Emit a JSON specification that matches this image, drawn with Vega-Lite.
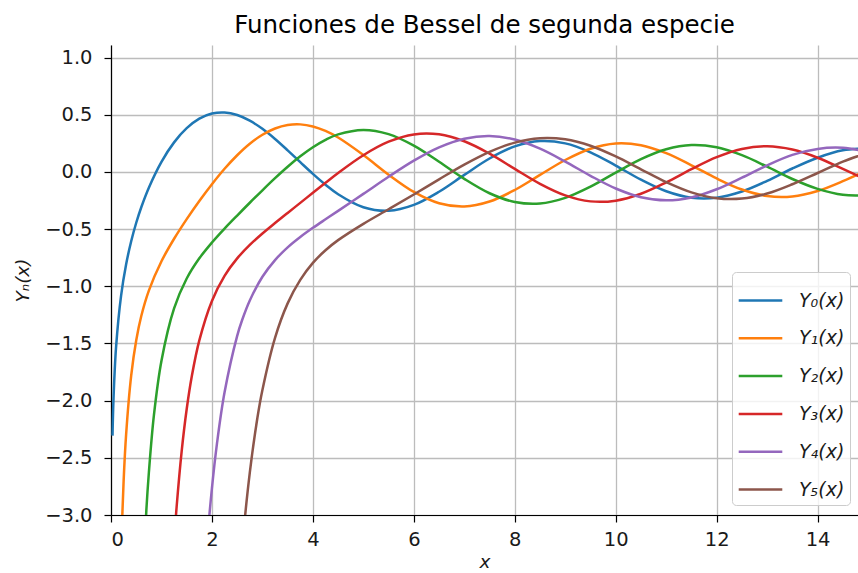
{
  "$schema": "https://vega.github.io/schema/vega-lite/v6.json",
  "width": 747,
  "height": 470,
  "autosize": {"type": "none"},
  "padding": {"left": 111, "top": 45, "right": 0, "bottom": 58},
  "background": "white",
  "title": {"text": "Funciones de Bessel de segunda especie", "font": "DejaVu Sans", "fontSize": 24.5, "fontWeight": "normal", "color": "#000000", "offset": 7, "anchor": "middle"},
  "config": {
    "view": {"stroke": null},
    "font": "DejaVu Sans",
    "axis": {
      "labelFont": "DejaVu Sans", "labelFontSize": 19.5, "labelColor": "#1a1a1a",
      "titleFont": "DejaVu Sans", "titleFontSize": 18.5, "titleFontWeight": "normal", "titleFontStyle": "italic", "titleColor": "#1a1a1a",
      "domainColor": "#000000", "domainWidth": 1.2,
      "tickColor": "#000000", "tickWidth": 1.2, "tickSize": 7,
      "grid": true, "gridColor": "#bcbcbc", "gridWidth": 1.3
    },
    "legend": {
      "orient": "none", "legendX": 621, "legendY": 227,
      "padding": 5, "fillColor": "rgba(255,255,255,0.8)", "strokeColor": "#cccccc", "cornerRadius": 4,
      "symbolType": "stroke", "symbolSize": 1900, "symbolStrokeWidth": 2.5,
      "labelFont": "DejaVu Sans", "labelFontSize": 19, "labelFontStyle": "italic", "labelColor": "#1a1a1a", "labelOffset": 15,
      "rowPadding": 3.8
    }
  },
  "layer": [
    {
      "data": {"values": [
        {"s":"Y₀(x)","x":0.03,"y":-2.306},{"s":"Y₀(x)","x":0.05,"y":-1.981},{"s":"Y₀(x)","x":0.1,"y":-1.5342},{"s":"Y₀(x)","x":0.2,"y":-1.0811},{"s":"Y₀(x)","x":0.3,"y":-0.8073},{"s":"Y₀(x)","x":0.4,"y":-0.606},{"s":"Y₀(x)","x":0.5,"y":-0.4445},{"s":"Y₀(x)","x":0.6,"y":-0.3085},{"s":"Y₀(x)","x":0.75,"y":-0.1375},{"s":"Y₀(x)","x":1,"y":0.0883},{"s":"Y₀(x)","x":1.25,"y":0.2585},{"s":"Y₀(x)","x":1.5,"y":0.3824},{"s":"Y₀(x)","x":1.75,"y":0.4655},{"s":"Y₀(x)","x":2,"y":0.5104},{"s":"Y₀(x)","x":2.25,"y":0.52},{"s":"Y₀(x)","x":2.5,"y":0.4981},{"s":"Y₀(x)","x":2.75,"y":0.4487},{"s":"Y₀(x)","x":3,"y":0.3769},{"s":"Y₀(x)","x":3.25,"y":0.2883},{"s":"Y₀(x)","x":3.5,"y":0.189},{"s":"Y₀(x)","x":3.75,"y":0.0855},{"s":"Y₀(x)","x":4,"y":-0.0169},{"s":"Y₀(x)","x":4.25,"y":-0.1116},{"s":"Y₀(x)","x":4.5,"y":-0.1947},{"s":"Y₀(x)","x":5,"y":-0.3085},{"s":"Y₀(x)","x":5.5,"y":-0.3395},{"s":"Y₀(x)","x":6,"y":-0.2882},{"s":"Y₀(x)","x":6.5,"y":-0.1732},{"s":"Y₀(x)","x":7,"y":-0.0259},{"s":"Y₀(x)","x":7.5,"y":0.1173},{"s":"Y₀(x)","x":8,"y":0.2235},{"s":"Y₀(x)","x":8.5,"y":0.2702},{"s":"Y₀(x)","x":9,"y":0.2499},{"s":"Y₀(x)","x":9.5,"y":0.1717},{"s":"Y₀(x)","x":10,"y":0.0557},{"s":"Y₀(x)","x":10.5,"y":-0.0675},{"s":"Y₀(x)","x":11,"y":-0.1688},{"s":"Y₀(x)","x":11.5,"y":-0.2252},{"s":"Y₀(x)","x":12,"y":-0.2252},{"s":"Y₀(x)","x":12.5,"y":-0.1713},{"s":"Y₀(x)","x":13,"y":-0.0783},{"s":"Y₀(x)","x":13.5,"y":0.0301},{"s":"Y₀(x)","x":14,"y":0.1243},{"s":"Y₀(x)","x":14.5,"y":0.1889},{"s":"Y₀(x)","x":15,"y":0.2057},
        {"s":"Y₁(x)","x":0.2,"y":-3.3238},{"s":"Y₁(x)","x":0.25,"y":-2.7041},{"s":"Y₁(x)","x":0.3,"y":-2.2931},{"s":"Y₁(x)","x":0.4,"y":-1.7809},{"s":"Y₁(x)","x":0.5,"y":-1.4715},{"s":"Y₁(x)","x":0.6,"y":-1.2604},{"s":"Y₁(x)","x":0.75,"y":-1.038},{"s":"Y₁(x)","x":1,"y":-0.7812},{"s":"Y₁(x)","x":1.25,"y":-0.5844},{"s":"Y₁(x)","x":1.5,"y":-0.4123},{"s":"Y₁(x)","x":1.75,"y":-0.2537},{"s":"Y₁(x)","x":2,"y":-0.107},{"s":"Y₁(x)","x":2.25,"y":0.0276},{"s":"Y₁(x)","x":2.5,"y":0.1459},{"s":"Y₁(x)","x":2.75,"y":0.2465},{"s":"Y₁(x)","x":3,"y":0.3247},{"s":"Y₁(x)","x":3.25,"y":0.38},{"s":"Y₁(x)","x":3.5,"y":0.4102},{"s":"Y₁(x)","x":3.75,"y":0.4159},{"s":"Y₁(x)","x":4,"y":0.3979},{"s":"Y₁(x)","x":4.25,"y":0.3585},{"s":"Y₁(x)","x":4.5,"y":0.301},{"s":"Y₁(x)","x":5,"y":0.1479},{"s":"Y₁(x)","x":5.5,"y":-0.0238},{"s":"Y₁(x)","x":6,"y":-0.175},{"s":"Y₁(x)","x":6.5,"y":-0.2741},{"s":"Y₁(x)","x":7,"y":-0.3027},{"s":"Y₁(x)","x":7.5,"y":-0.2591},{"s":"Y₁(x)","x":8,"y":-0.1581},{"s":"Y₁(x)","x":8.5,"y":-0.0262},{"s":"Y₁(x)","x":9,"y":0.1043},{"s":"Y₁(x)","x":9.5,"y":0.2032},{"s":"Y₁(x)","x":10,"y":0.249},{"s":"Y₁(x)","x":10.5,"y":0.2337},{"s":"Y₁(x)","x":11,"y":0.1638},{"s":"Y₁(x)","x":11.5,"y":0.0581},{"s":"Y₁(x)","x":12,"y":-0.0571},{"s":"Y₁(x)","x":12.5,"y":-0.1539},{"s":"Y₁(x)","x":13,"y":-0.2101},{"s":"Y₁(x)","x":13.5,"y":-0.214},{"s":"Y₁(x)","x":14,"y":-0.1667},{"s":"Y₁(x)","x":14.5,"y":-0.081},{"s":"Y₁(x)","x":15,"y":0.0211},
        {"s":"Y₂(x)","x":0.6,"y":-3.8928},{"s":"Y₂(x)","x":0.7,"y":-2.9613},{"s":"Y₂(x)","x":0.75,"y":-2.6305},{"s":"Y₂(x)","x":0.85,"y":-2.129},{"s":"Y₂(x)","x":1,"y":-1.6507},{"s":"Y₂(x)","x":1.25,"y":-1.1935},{"s":"Y₂(x)","x":1.5,"y":-0.9321},{"s":"Y₂(x)","x":1.75,"y":-0.7554},{"s":"Y₂(x)","x":2,"y":-0.6174},{"s":"Y₂(x)","x":2.25,"y":-0.4955},{"s":"Y₂(x)","x":2.5,"y":-0.3814},{"s":"Y₂(x)","x":2.75,"y":-0.2694},{"s":"Y₂(x)","x":3,"y":-0.1604},{"s":"Y₂(x)","x":3.25,"y":-0.0545},{"s":"Y₂(x)","x":3.5,"y":0.0454},{"s":"Y₂(x)","x":3.75,"y":0.1363},{"s":"Y₂(x)","x":4,"y":0.2159},{"s":"Y₂(x)","x":4.25,"y":0.2803},{"s":"Y₂(x)","x":4.5,"y":0.3285},{"s":"Y₂(x)","x":5,"y":0.3677},{"s":"Y₂(x)","x":5.5,"y":0.3308},{"s":"Y₂(x)","x":6,"y":0.2299},{"s":"Y₂(x)","x":6.5,"y":0.0889},{"s":"Y₂(x)","x":7,"y":-0.0606},{"s":"Y₂(x)","x":7.5,"y":-0.1864},{"s":"Y₂(x)","x":8,"y":-0.263},{"s":"Y₂(x)","x":8.5,"y":-0.2764},{"s":"Y₂(x)","x":9,"y":-0.2267},{"s":"Y₂(x)","x":9.5,"y":-0.1289},{"s":"Y₂(x)","x":10,"y":-0.0059},{"s":"Y₂(x)","x":10.5,"y":0.112},{"s":"Y₂(x)","x":11,"y":0.1986},{"s":"Y₂(x)","x":11.5,"y":0.2353},{"s":"Y₂(x)","x":12,"y":0.2157},{"s":"Y₂(x)","x":12.5,"y":0.1467},{"s":"Y₂(x)","x":13,"y":0.046},{"s":"Y₂(x)","x":13.5,"y":-0.0618},{"s":"Y₂(x)","x":14,"y":-0.1481},{"s":"Y₂(x)","x":14.5,"y":-0.2001},{"s":"Y₂(x)","x":15,"y":-0.2029},
        {"s":"Y₃(x)","x":1.25,"y":-3.2348},{"s":"Y₃(x)","x":1.3,"y":-2.9302},{"s":"Y₃(x)","x":1.4,"y":-2.4431},{"s":"Y₃(x)","x":1.5,"y":-2.0733},{"s":"Y₃(x)","x":1.6,"y":-1.789},{"s":"Y₃(x)","x":1.75,"y":-1.4729},{"s":"Y₃(x)","x":2,"y":-1.1278},{"s":"Y₃(x)","x":2.25,"y":-0.9085},{"s":"Y₃(x)","x":2.5,"y":-0.7561},{"s":"Y₃(x)","x":2.75,"y":-0.6384},{"s":"Y₃(x)","x":3,"y":-0.5386},{"s":"Y₃(x)","x":3.25,"y":-0.4471},{"s":"Y₃(x)","x":3.5,"y":-0.3583},{"s":"Y₃(x)","x":3.75,"y":-0.2705},{"s":"Y₃(x)","x":4,"y":-0.182},{"s":"Y₃(x)","x":4.25,"y":-0.0947},{"s":"Y₃(x)","x":4.5,"y":-0.009},{"s":"Y₃(x)","x":5,"y":0.1463},{"s":"Y₃(x)","x":5.5,"y":0.2644},{"s":"Y₃(x)","x":6,"y":0.3283},{"s":"Y₃(x)","x":6.5,"y":0.3288},{"s":"Y₃(x)","x":7,"y":0.2681},{"s":"Y₃(x)","x":7.5,"y":0.1597},{"s":"Y₃(x)","x":8,"y":0.0266},{"s":"Y₃(x)","x":8.5,"y":-0.1039},{"s":"Y₃(x)","x":9,"y":-0.2051},{"s":"Y₃(x)","x":9.5,"y":-0.2575},{"s":"Y₃(x)","x":10,"y":-0.2514},{"s":"Y₃(x)","x":10.5,"y":-0.191},{"s":"Y₃(x)","x":11,"y":-0.0916},{"s":"Y₃(x)","x":11.5,"y":0.0237},{"s":"Y₃(x)","x":12,"y":0.129},{"s":"Y₃(x)","x":12.5,"y":0.2008},{"s":"Y₃(x)","x":13,"y":0.2243},{"s":"Y₃(x)","x":13.5,"y":0.1957},{"s":"Y₃(x)","x":14,"y":0.1244},{"s":"Y₃(x)","x":14.5,"y":0.0258},{"s":"Y₃(x)","x":15,"y":-0.0752},
        {"s":"Y₄(x)","x":1.75,"y":-4.2945},{"s":"Y₄(x)","x":1.9,"y":-3.2637},{"s":"Y₄(x)","x":2,"y":-2.766},{"s":"Y₄(x)","x":2.1,"y":-2.3741},{"s":"Y₄(x)","x":2.25,"y":-1.9272},{"s":"Y₄(x)","x":2.5,"y":-1.4332},{"s":"Y₄(x)","x":2.6,"y":-1.2926},{"s":"Y₄(x)","x":2.75,"y":-1.1235},{"s":"Y₄(x)","x":3,"y":-0.9168},{"s":"Y₄(x)","x":3.25,"y":-0.7709},{"s":"Y₄(x)","x":3.5,"y":-0.6596},{"s":"Y₄(x)","x":3.75,"y":-0.5691},{"s":"Y₄(x)","x":4,"y":-0.4889},{"s":"Y₄(x)","x":4.25,"y":-0.414},{"s":"Y₄(x)","x":4.5,"y":-0.3405},{"s":"Y₄(x)","x":5,"y":-0.1921},{"s":"Y₄(x)","x":5.5,"y":-0.0424},{"s":"Y₄(x)","x":6,"y":0.0984},{"s":"Y₄(x)","x":6.5,"y":0.2146},{"s":"Y₄(x)","x":7,"y":0.2904},{"s":"Y₄(x)","x":7.5,"y":0.3142},{"s":"Y₄(x)","x":8,"y":0.283},{"s":"Y₄(x)","x":8.5,"y":0.2031},{"s":"Y₄(x)","x":9,"y":0.09},{"s":"Y₄(x)","x":9.5,"y":-0.0337},{"s":"Y₄(x)","x":10,"y":-0.1449},{"s":"Y₄(x)","x":10.5,"y":-0.2211},{"s":"Y₄(x)","x":11,"y":-0.2486},{"s":"Y₄(x)","x":11.5,"y":-0.2229},{"s":"Y₄(x)","x":12,"y":-0.1512},{"s":"Y₄(x)","x":12.5,"y":-0.0503},{"s":"Y₄(x)","x":13,"y":0.0575},{"s":"Y₄(x)","x":13.5,"y":0.1488},{"s":"Y₄(x)","x":14,"y":0.2014},{"s":"Y₄(x)","x":14.5,"y":0.2108},{"s":"Y₄(x)","x":15,"y":0.1728},
        {"s":"Y₅(x)","x":2.5,"y":-3.8301},{"s":"Y₅(x)","x":2.6,"y":-3.2713},{"s":"Y₅(x)","x":2.75,"y":-2.63},{"s":"Y₅(x)","x":2.9,"y":-2.1516},{"s":"Y₅(x)","x":3,"y":-1.9062},{"s":"Y₅(x)","x":3.25,"y":-1.4505},{"s":"Y₅(x)","x":3.5,"y":-1.1494},{"s":"Y₅(x)","x":3.75,"y":-0.9436},{"s":"Y₅(x)","x":4,"y":-0.7958},{"s":"Y₅(x)","x":4.25,"y":-0.6846},{"s":"Y₅(x)","x":4.5,"y":-0.5963},{"s":"Y₅(x)","x":5,"y":-0.4537},{"s":"Y₅(x)","x":5.5,"y":-0.3261},{"s":"Y₅(x)","x":6,"y":-0.1971},{"s":"Y₅(x)","x":6.5,"y":-0.0647},{"s":"Y₅(x)","x":7,"y":0.0638},{"s":"Y₅(x)","x":7.5,"y":0.1754},{"s":"Y₅(x)","x":8,"y":0.2564},{"s":"Y₅(x)","x":8.5,"y":0.2951},{"s":"Y₅(x)","x":9,"y":0.2851},{"s":"Y₅(x)","x":9.5,"y":0.2291},{"s":"Y₅(x)","x":10,"y":0.1355},{"s":"Y₅(x)","x":10.5,"y":0.0225},{"s":"Y₅(x)","x":11,"y":-0.0892},{"s":"Y₅(x)","x":11.5,"y":-0.1788},{"s":"Y₅(x)","x":12,"y":-0.2298},{"s":"Y₅(x)","x":12.5,"y":-0.233},{"s":"Y₅(x)","x":13,"y":-0.1889},{"s":"Y₅(x)","x":13.5,"y":-0.1075},{"s":"Y₅(x)","x":14,"y":-0.0093},{"s":"Y₅(x)","x":14.5,"y":0.0905},{"s":"Y₅(x)","x":15,"y":0.1674}
      ]},
      "mark": {"type": "line", "clip": true, "strokeWidth": 2.5, "interpolate": "catmull-rom"},
      "encoding": {
        "x": {"field": "x", "type": "quantitative", "scale": {"domain": [0, 14.8], "nice": false, "zero": false},
              "axis": {"title": "x", "values": [0, 2, 4, 6, 8, 10, 12, 14], "labelPadding": 8, "titlePadding": 4}},
        "y": {"field": "y", "type": "quantitative", "scale": {"domain": [-3, 1.11], "nice": false, "zero": false},
              "axis": {"title": "Yₙ(x)", "values": [-3, -2.5, -2, -1.5, -1, -0.5, 0, 0.5, 1], "format": ".1f", "labelPadding": 12, "titlePadding": 12}},
        "color": {"field": "s", "type": "nominal",
                  "scale": {"domain": ["Y₀(x)", "Y₁(x)", "Y₂(x)", "Y₃(x)", "Y₄(x)", "Y₅(x)"],
                            "range": ["#1f77b4", "#ff7f0e", "#2ca02c", "#d62728", "#9467bd", "#8c564b"]},
                  "legend": {"title": null}}
      }
    },
    {
      "mark": {"type": "rule", "color": "#000000", "strokeWidth": 1.2},
      "encoding": {"y": {"datum": 1.11}}
    }
  ]
}
